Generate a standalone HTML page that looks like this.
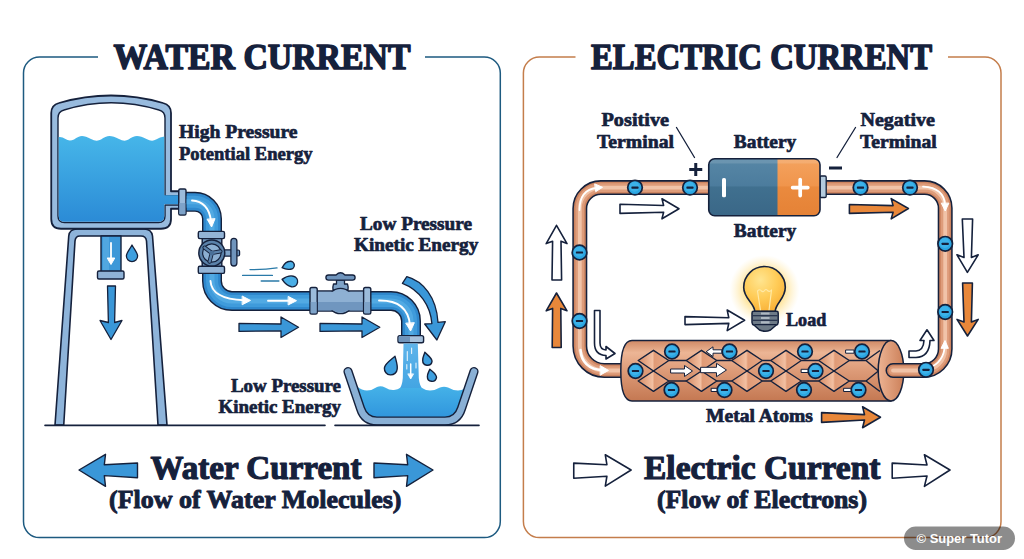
<!DOCTYPE html>
<html lang="en">
<head>
<meta charset="utf-8">
<title>Water Current vs Electric Current</title>
<style>
html,body{margin:0;padding:0;background:#fff;}
body{width:1024px;height:559px;overflow:hidden;position:relative;}
svg{display:block;position:absolute;left:0;top:0;}
.t{font-family:"Liberation Serif","DejaVu Serif",serif;font-weight:bold;fill:#15213c;stroke:#15213c;stroke-width:.7px;stroke-linejoin:round;}
.wm{font-family:"Liberation Sans","DejaVu Sans",sans-serif;font-weight:bold;fill:#fff;}
.ol{stroke:#15213c;stroke-linejoin:round;stroke-linecap:round;}
</style>
</head>
<body>
<svg width="1024" height="559" viewBox="0 0 1024 559">
<defs>
<linearGradient id="gTank" x1="0" y1="0" x2="0" y2="1"><stop offset="0" stop-color="#46b6e9"/><stop offset="1" stop-color="#2b8bd6"/></linearGradient>
<linearGradient id="gBasin" x1="0" y1="0" x2="0" y2="1"><stop offset="0" stop-color="#45b2e8"/><stop offset="1" stop-color="#2e93dc"/></linearGradient>
<linearGradient id="gStream" x1="0" y1="0" x2="0" y2="1"><stop offset="0" stop-color="#5fb4ea"/><stop offset="1" stop-color="#3fa3e2"/></linearGradient>
<linearGradient id="gCyl" x1="0" y1="0" x2="0" y2="1"><stop offset="0" stop-color="#d08a66"/><stop offset=".2" stop-color="#ecb595"/><stop offset=".5" stop-color="#dd9b78"/><stop offset="1" stop-color="#c47852"/></linearGradient>
<linearGradient id="gEnd" x1="0" y1="0" x2="1" y2="0"><stop offset="0" stop-color="#ecb393"/><stop offset="1" stop-color="#cc8059"/></linearGradient>
<linearGradient id="gDia" x1="0" y1="0" x2="1" y2="0"><stop offset="0" stop-color="#d68b65"/><stop offset=".47" stop-color="#f3c0a2"/><stop offset=".53" stop-color="#e09b77"/><stop offset="1" stop-color="#e6a683"/></linearGradient>
<linearGradient id="gBatL" x1="0" y1="0" x2="0" y2="1"><stop offset="0" stop-color="#5787a6"/><stop offset=".48" stop-color="#4c7c9d"/><stop offset=".5" stop-color="#40708f"/><stop offset="1" stop-color="#3a6787"/></linearGradient>
<linearGradient id="gBatR" x1="0" y1="0" x2="0" y2="1"><stop offset="0" stop-color="#f4a35f"/><stop offset=".48" stop-color="#f0954c"/><stop offset=".5" stop-color="#ea8a3e"/><stop offset="1" stop-color="#e58236"/></linearGradient>
<radialGradient id="gGlow" cx=".5" cy=".5" r=".5"><stop offset="0" stop-color="#ffd564" stop-opacity=".9"/><stop offset=".6" stop-color="#ffdb78" stop-opacity=".65"/><stop offset="1" stop-color="#ffe8a8" stop-opacity="0"/></radialGradient>
<radialGradient id="gBulb" cx=".4" cy=".3" r=".8"><stop offset="0" stop-color="#ffe590"/><stop offset=".5" stop-color="#ffcc58"/><stop offset="1" stop-color="#f8ab30"/></radialGradient>
<g id="el"><circle r="7.3" fill="#2ba6e2" stroke="#15213c" stroke-width="1.7"/><circle r="5" cx="-.6" cy="-.8" fill="#45b8ec" opacity=".7"/><rect x="-3.6" y="-1.1" width="7.2" height="2.2" rx=".6" fill="#15213c"/></g>

</defs>
<rect width="1024" height="559" fill="#fff"/>

<!-- ===== frames ===== -->
<path d="M98,57 H39.5 A16,16 0 0 0 23.5,73 V521.6 A16,16 0 0 0 39.5,537.6 H484.3 A16,16 0 0 0 500.3,521.6 V73 A16,16 0 0 0 484.3,57 H425" fill="none" stroke="#1d5a80" stroke-width="1.5"/>
<path d="M575.5,57 H539.4 A16,16 0 0 0 523.4,73 V521.6 A16,16 0 0 0 539.4,537.6 H985 A16,16 0 0 0 1001,521.6 V73 A16,16 0 0 0 985,57 H948" fill="none" stroke="#c47d4b" stroke-width="1.5"/>

<!-- ===== LEFT ART ===== -->
<g id="leftart">
<!-- tower legs -->
<path class="ol" d="M55,425 L68.75,236 Q69.5,229 77,229 H144 Q151.5,229 152.5,236 L167,425 H158 L146.5,241 Q146,236 141,236 H80 Q75.5,236 75,241 L63.75,425 Z" fill="#8eb4da" stroke-width="1.6"/>
<!-- center drain pipe -->
<rect class="ol" x="101" y="236" width="20" height="36" fill="#3d98d8" stroke-width="1.4"/>
<rect x="103" y="237" width="6" height="34" fill="#5fb0e6" opacity=".6"/>
<rect class="ol" x="97.5" y="271" width="26.5" height="8" rx="1.5" fill="#8fb2d6" stroke-width="1.4"/>
<path d="M111,243 V260" fill="none" stroke="#fff" stroke-width="1.8" stroke-linecap="round"/><path d="M107.2,258 L111,264.5 L114.8,258 Z" fill="#fff" stroke="#fff" stroke-width="1" stroke-linejoin="round"/>
<path class="ol" d="M132,245 C134.6,250 137.6,253 137.6,256 A5.6,5.6 0 0 1 126.4,256 C126.4,253 129.4,250 132,245 Z" fill="#3d9fdf" stroke-width="1.3"/>
<path class="ol" d="M107.5,286 H115.5 L114.6,322.5 L122,320.5 L111,339.5 L100,320.5 L108.4,322.5 Z" fill="#3a97d8" stroke-width="1.3"/>
<!-- tank -->
<path class="ol" d="M51.25,113 Q51.25,105 59,103 Q111,88 163,103 Q171,105 171,113 V191.25 H179 V208.75 H171 V219 Q171,228.75 161,228.75 H61 Q51.25,228.75 51.25,219 Z" fill="#98bbde" stroke-width="1.8"/>
<path class="ol" d="M58,118 Q58,111.5 64,110 Q111,95.5 159,110 Q165,111.5 165,118 V196 H179 V205 H165 V216 Q165,222.5 158.5,222.5 H64.5 Q58,222.5 58,216 Z" fill="#fff" stroke-width="1.4"/>
<path d="M58.7,137 Q62,136.5 65.5,139 T74,139.5 Q78.5,136 82,136 T91,139 T101,139.5 Q105.5,136 109.5,136 T119,139 T128.5,139.5 Q133,136 137,136 T146.5,139 T156,139.5 Q160,137 164.3,136.5 V195.3 H178.5 V204.3 H164.3 V216 Q164.3,221.8 158.5,221.8 H64.5 Q58.7,221.8 58.7,216 Z" fill="url(#gTank)"/>
<!-- tank outlet flange -->
<rect class="ol" x="178.75" y="189" width="7.25" height="26" rx="1.5" fill="#9bbbdb" stroke-width="1.4"/>
<rect x="179.5" y="203" width="5.8" height="11.2" fill="#7ea3c9"/>
<!-- main pipe -->
<path id="pipe1" d="M186,201.8 H195 A17,17 0 0 1 212,218.8 V281 A20,20 0 0 0 232,301 H391 A20,20 0 0 1 411,321 V337" fill="none" stroke="#15213c" stroke-width="20"/>
<path d="M186.7,201.8 H195 A17,17 0 0 1 212,218.8 V281 A20,20 0 0 0 232,301 H391 A20,20 0 0 1 411,321 V337" fill="none" stroke="#2f88cd" stroke-width="17.2"/>
<path d="M186.7,201.8 H195 A17,17 0 0 1 212,218.8 V281 A20,20 0 0 0 232,301 H391 A20,20 0 0 1 411,321 V337" fill="none" stroke="#3f9bdb" stroke-width="12"/>
<path d="M186.7,201.8 H195 A17,17 0 0 1 212,218.8 V281 A20,20 0 0 0 232,301 H391 A20,20 0 0 1 411,321 V337" fill="none" stroke="#52aae3" stroke-width="5"/>
<!-- white arrows in pipe -->
<g fill="none" stroke="#fff" stroke-width="1.9" stroke-linecap="round" stroke-linejoin="round">
<path d="M192,200.5 Q208.5,201.5 211,221"/><path d="M207.3,219.5 L211.6,227 L214.9,219 Z" fill="#fff" stroke-width="1"/>
<path d="M210.5,281 Q211.5,299 244,300.3"/><path d="M242.5,296.2 L250.5,300.4 L242.5,304.6 Z" fill="#fff" stroke-width="1"/>
<path d="M268,300.7 H290"/><path d="M288.5,296.6 L296.5,300.7 L288.5,304.8 Z" fill="#fff" stroke-width="1"/>
<path d="M379,300.5 Q407.5,300 410,325"/><path d="M406,323.5 L410.6,331 L414.2,323 Z" fill="#fff" stroke-width="1"/>
</g>
<!-- gate valve on vertical pipe -->
<rect class="ol" x="202.2" y="238" width="19.6" height="29" fill="#7397bd" stroke-width="1.4"/>
<rect class="ol" x="198.3" y="231.4" width="26.2" height="7.2" rx="1.5" fill="#93b4d6" stroke-width="1.4"/>
<rect class="ol" x="198.3" y="266.2" width="26.2" height="7.2" rx="1.5" fill="#93b4d6" stroke-width="1.4"/>
<rect class="ol" x="222" y="249.8" width="10" height="6.4" fill="#7fa3c8" stroke-width="1.3"/>
<rect class="ol" x="236" y="250" width="3.6" height="6" rx="1.5" fill="#6f94bc" stroke-width="1.2"/>
<rect class="ol" x="230.9" y="238.4" width="6" height="27.6" rx="3" fill="#6f94bc" stroke-width="1.3"/>
<circle class="ol" cx="211.8" cy="253" r="13" fill="#5b82aa" stroke-width="1.4"/>
<circle class="ol" cx="211.8" cy="253" r="9.2" fill="#8cafd2" stroke-width="1.2"/>
<path d="M211.8,253 L204.6,247.6 M211.8,253 L220.4,251.4 M211.8,253 L209.6,261.6" stroke="#15213c" stroke-width="4.2" stroke-linecap="round"/>
<path d="M211.8,253 L204.6,247.6 M211.8,253 L220.4,251.4 M211.8,253 L209.6,261.6" stroke="#5b82aa" stroke-width="2.4" stroke-linecap="round"/>
<circle cx="211.8" cy="253" r="2.3" fill="#4a7099"/>
<!-- faucet valve on horizontal pipe -->
<rect class="ol" x="316" y="291" width="48" height="20" fill="#8eb0d3" stroke-width="1.4"/>
<rect x="316.7" y="302" width="46.6" height="8.3" fill="#7096bf"/>
<path class="ol" d="M336.5,280 H344.5 V284 H347.5 Q348.5,287 348,290 H333 Q332.5,287 333.5,284 H336.5 Z" fill="#7fa3c8" stroke-width="1.3"/>
<circle class="ol" cx="340.5" cy="301" r="12.6" fill="#8eb0d3" stroke-width="1.4"/>
<path d="M328.6,302 A12,12 0 0 0 352.4,302 Z" fill="#7096bf"/>
<rect x="318" y="291.8" width="45" height="10.2" fill="#8eb0d3"/><rect x="318" y="302" width="45" height="8.3" fill="#7096bf"/>
<path class="ol" d="M328.5,275 H336 Q340.5,270.5 345,275 H352.5 A2.6,2.6 0 0 1 352.5,280.2 H328.5 A2.6,2.6 0 0 1 328.5,275 Z" fill="#6f94bc" stroke-width="1.3"/>
<rect class="ol" x="310" y="287.5" width="7.2" height="26.5" rx="1.8" fill="#9bbbdb" stroke-width="1.4"/>
<rect x="310.7" y="302" width="5.8" height="11.3" fill="#7ea3c9"/>
<rect class="ol" x="363.6" y="287.5" width="7.2" height="26.5" rx="1.8" fill="#9bbbdb" stroke-width="1.4"/>
<rect x="364.3" y="302" width="5.8" height="11.3" fill="#7ea3c9"/>
<!-- spout flange -->
<rect class="ol" x="398" y="335.6" width="25.6" height="7.2" rx="1.8" fill="#a6c1dc" stroke-width="1.4"/>
<path d="M399.5,336.3 H410 V342.1 H399.5 Q398.7,342.1 398.7,341.3 V337.1 Q398.7,336.3 399.5,336.3 Z" fill="#6f94bb"/>
<!-- stream + basin -->
<path d="M403.5,343.5 H417.8 L418.8,378 Q419.5,386 423,389.5 V395 H399 V389.5 Q402.2,386 402.8,378 Z" fill="url(#gStream)"/>
<path d="M350,388 Q353,385.5 357,386.5 Q362,390.5 367,390.5 Q372,390.5 377,387 Q381,385.5 385,387.5 Q390,390.5 394,390 Q398,389.5 400,388 L422,388 Q426,390.5 430,390.5 Q435,390.5 440,387.5 Q444,386 448,387.5 Q453,390.5 458,390.5 Q463,390 466,387.5 Q468,386.5 471,387 L461.5,412 Q458.5,420.5 449,420.5 H373 Q363.5,420.5 360.5,412 Z" fill="url(#gBasin)"/>
<g fill="none" stroke="#fff" stroke-linecap="round" stroke-linejoin="round">
<path d="M410.7,364 V375" stroke-width="1.5"/><path d="M408,374.2 L410.7,379 L413.4,374.2 Z" fill="#fff" stroke-width=".8"/>
<path d="M407.3,351.6 V360.5 M411.6,348 V353.5 M416,363 V368 M406.8,364.5 V369" stroke-width="1.1" opacity=".85"/>
</g>
<path d="M348,371.5 L360.5,408.5 Q364.5,421 377,421 H445 Q457.5,421 461.5,408.5 L474,371.5" fill="none" stroke="#15213c" stroke-width="9.2" stroke-linecap="round" stroke-linejoin="round"/>
<path d="M348,371.5 L360.5,408.5 Q364.5,421 377,421 H445 Q457.5,421 461.5,408.5 L474,371.5" fill="none" stroke="#8ab0d5" stroke-width="6.4" stroke-linecap="round" stroke-linejoin="round"/>
<!-- drops by stream -->
<path class="ol" d="M395,356.3 C396.3,361.5 397.8,365.5 397.2,369 A6.4,6.4 0 0 1 384.4,368 C384.6,364 390,360.5 395,356.3 Z" fill="#3d9fdf" stroke-width="1.4"/>
<path class="ol" d="M424.8,352.3 C427.8,355.5 432.3,358 432,361.5 A4.7,4.7 0 0 1 422.7,360.5 C422.5,357.5 424,355.5 424.8,352.3 Z" fill="#3d9fdf" stroke-width="1.4"/>
<path class="ol" d="M429.8,369.2 C432.8,372 436.8,374.2 436.5,377.7 A4.6,4.6 0 0 1 427.4,376.7 C427.2,373.7 428.8,372 429.8,369.2 Z" fill="#3d9fdf" stroke-width="1.4"/>
<!-- spray lines + drops -->
<path d="M250,269.6 Q265,269.6 277,267.9 M242.6,275.4 H272.4 M261.2,281 H278.9" fill="none" stroke="#2a7aa8" stroke-width="1.35" stroke-linecap="round"/>
<path class="ol" d="M282.1,267.7 C284,264 287,261.3 290,261.2 A4,4 0 0 1 290.6,269.2 C287.5,269.8 284.5,269 282.1,267.7 Z" fill="#4aaee6" stroke-width="1.4"/>
<path class="ol" d="M282.1,279.4 C286,276.5 290.5,275.4 293.5,276.2 A5.4,5.4 0 0 1 291.5,286.8 C287.5,286 284.5,283 282.1,279.4 Z" fill="#4aaee6" stroke-width="1.4"/>
<!-- flow arrows under pipe -->
<path class="ol" d="M239,323.3 L281,324 V317 L298.5,327.3 L281,337.5 V330.8 L239,331.4 Z" fill="#3a97d8" stroke-width="1.3"/>
<path class="ol" d="M320,323.3 L362,324 V317 L379.8,327.3 L362,337.5 V330.8 L320,331.4 Z" fill="#3a97d8" stroke-width="1.3"/>
<!-- curved arrow -->
<path class="ol" d="M406.8,276.6 C423,281 436.5,297 438,322.4 L445.3,321.7 L436.9,340 L424.7,324 L431.9,323.6 C430.5,306 420,290 402.4,283.3 Z" fill="#3a97d8" stroke-width="1.3"/>
<!-- ground -->
<path d="M45,425.4 H325 M335,425.4 H479" stroke="#15213c" stroke-width="1.6" stroke-linecap="round"/>
<!-- big arrows -->
<path class="ol" d="M79,470 L105.5,454.3 L104.3,464.8 L137.5,463 V477.8 L104.3,475.6 L105.5,486.4 Z" fill="#3a97d8" stroke-width="1.4"/>
<path class="ol" d="M433,470 L406.5,454.3 L407.7,464.8 L374,463 V477.8 L407.7,475.6 L406.5,486.4 Z" fill="#3a97d8" stroke-width="1.4"/>

</g>

<!-- ===== RIGHT ART ===== -->
<g id="rightart">
<!-- wire -->
<g fill="none" stroke-linecap="butt">
<path d="M712,187.6 H600.8 A21,21 0 0 0 579.8,208.6 V346 A24.5,24.5 0 0 0 604.3,370.5 H626" stroke="#15213c" stroke-width="15"/>
<path d="M712,187.6 H600.8 A21,21 0 0 0 579.8,208.6 V346 A24.5,24.5 0 0 0 604.3,370.5 H626" stroke="#cd8460" stroke-width="11.9"/>
<path d="M712,187.6 H600.8 A21,21 0 0 0 579.8,208.6 V346 A24.5,24.5 0 0 0 604.3,370.5 H626" stroke="#de9c7a" stroke-width="8.6"/>
<path d="M712,187.6 H600.8 A21,21 0 0 0 579.8,208.6 V346 A24.5,24.5 0 0 0 604.3,370.5 H626" stroke="#f1c3a8" stroke-width="3.8"/>
</g>
<!-- cylinder -->
<path class="ol" d="M632,340.6 H891 V401 H632 Q620.8,401 620.8,370.8 Q620.8,340.6 632,340.6 Z" fill="url(#gCyl)" stroke-width="1.5"/>
<ellipse class="ol" cx="891" cy="370.8" rx="12.8" ry="30.2" fill="url(#gEnd)" stroke-width="1.5"/>
<!-- lattice -->
<g id="lattice" stroke="#15213c" stroke-width="1.45" stroke-linejoin="round">
<g id="dpair">
<path d="M638.2,360.5 L653.5,350.3 L668.8,360.5 L653.5,371 Z" fill="url(#gDia)"/>
<path d="M638.2,381 L653.5,371 L668.8,381 L653.5,391.3 Z" fill="url(#gDia)"/>
</g>
<use href="#dpair" x="48"/><use href="#dpair" x="93.5"/><use href="#dpair" x="132.5"/><use href="#dpair" x="180.5"/>
<path d="M668.8,360.5 H686.2 M668.8,381 H686.2 M716.8,360.5 H731.7 M716.8,381 H731.7 M762.3,360.5 H770.7 M762.3,381 H770.7 M801.3,360.5 H818.7 M801.3,381 H818.7 M849.3,360.5 H866 L878.4,371 L866,381 H849.3 M866,360.5 L880,350.5 M866,381 L880,391.5" fill="none"/>
</g>
<!-- right wire (over cylinder end) -->
<g fill="none" stroke-linecap="round">
<path d="M824,187.6 H924.7 A20.5,20.5 0 0 1 945.2,208.1 V349 A21.5,21.5 0 0 1 923.7,370.5 H893" stroke="#15213c" stroke-width="15"/>
<path d="M824,187.6 H924.7 A20.5,20.5 0 0 1 945.2,208.1 V349 A21.5,21.5 0 0 1 923.7,370.5 H893" stroke="#cd8460" stroke-width="11.9"/>
<path d="M824,187.6 H924.7 A20.5,20.5 0 0 1 945.2,208.1 V349 A21.5,21.5 0 0 1 923.7,370.5 H893" stroke="#de9c7a" stroke-width="8.6"/>
<path d="M824,187.6 H924.7 A20.5,20.5 0 0 1 945.2,208.1 V349 A21.5,21.5 0 0 1 923.7,370.5 H893" stroke="#f1c3a8" stroke-width="3.8"/>
</g>
<!-- white curved arrows inside wire corners -->
<g fill="none" stroke="#fff" stroke-width="1.8" stroke-linecap="round" stroke-linejoin="round">
<path d="M579.5,210 Q579.5,189.5 597,187.8"/><path d="M595,184 L602.5,187.3 L596,191.5 Z" fill="#fff" stroke-width="1"/>
<path d="M923,186.6 Q944,187.5 945,205"/><path d="M941.5,203.5 L945.2,211 L948.7,203.5 Z" fill="#fff" stroke-width="1"/>
<path d="M580.5,350 Q582,369 603,370.3" stroke-width="2.6"/><path d="M600.5,365.8 L608.5,370.4 L600.5,375 Z" fill="#fff" stroke-width="1"/>
<path d="M929,368 Q943.8,362 944.8,346"/><path d="M941.2,348 L945,340.5 L948.2,348 Z" fill="#fff" stroke-width="1"/>
</g>
<!-- battery -->
<rect class="ol" x="820" y="176" width="6.2" height="21.5" rx="1.2" fill="#b4cbde" stroke-width="1.3"/>
<clipPath id="cpBat"><rect x="708.75" y="158.75" width="111.25" height="57" rx="6"/></clipPath>
<g clip-path="url(#cpBat)">
<rect x="708" y="158" width="70" height="58" fill="url(#gBatL)"/>
<rect x="777.5" y="158" width="43" height="58" fill="url(#gBatR)"/>
<rect x="708" y="158" width="113" height="5.5" fill="#fff" opacity=".13"/>
</g>
<rect class="ol" x="708.75" y="158.75" width="111.25" height="57" rx="6" fill="none" stroke-width="1.6"/>
<rect x="722" y="178" width="4" height="19.3" rx="1.6" fill="#fff"/>
<path d="M800.2,179.6 V195.6 M792.6,187.6 H807.8" stroke="#fff" stroke-width="3.7" stroke-linecap="round"/>
<!-- terminal signs + leaders -->
<path d="M676.5,127.5 L694.5,157.5 M855.5,127.5 L837,157.5" stroke="#15213c" stroke-width="1.3" stroke-linecap="round"/>
<path d="M695.75,163 V176 M689.25,169.5 H702.25 M829,168 H842" stroke="#15213c" stroke-width="3"/>
<!-- electrons -->
<use href="#el" x="635" y="187.6"/><use href="#el" x="690" y="187.6"/><use href="#el" x="860.5" y="187.6"/><use href="#el" x="910" y="187.6"/>
<use href="#el" x="579.5" y="252.5"/><use href="#el" x="579.5" y="321"/>
<use href="#el" x="945.2" y="243.8"/><use href="#el" x="945.2" y="312"/>
<use href="#el" x="926" y="369.8"/>
<!-- small white tails / arrows in cylinder -->
<g class="ol" fill="#fff" stroke-width="1">
<rect x="711.5" y="388.3" width="8" height="3.2"/>
<rect x="801.5" y="369.3" width="8" height="3.2"/>
<rect x="846" y="350" width="8" height="3.2"/>
<rect x="844" y="388.3" width="8" height="3.2"/>
<path d="M706.5,351.5 L713,346.8 V349.8 H722 V353.2 H713 V356.2 Z"/>
<path d="M671,369 H684.5 V365.5 L692.5,371 L684.5,376.5 V373 H671 Z"/>
<path d="M701,367.3 H716.5 V363.3 L726.5,370 L716.5,376.7 V372.7 H701 Z"/>
</g>
<use href="#el" x="635.5" y="371"/><use href="#el" x="672" y="351.5"/><use href="#el" x="671.5" y="390"/>
<use href="#el" x="729.5" y="351.5"/><use href="#el" x="724.5" y="390"/><use href="#el" x="766" y="371"/>
<use href="#el" x="805" y="351.5"/><use href="#el" x="815.5" y="371"/><use href="#el" x="804" y="390"/>
<use href="#el" x="862" y="351.5"/><use href="#el" x="858.5" y="390"/>
<!-- bulb -->
<circle cx="764.5" cy="290" r="35" fill="url(#gGlow)"/>
<path class="ol" d="M754.8,311.5 C754.5,303 743.7,299 743.7,287.3 A20.8,20.8 0 0 1 785.3,287.3 C785.3,299 775.5,303 775.2,311.5 Z" fill="url(#gBulb)" stroke-width="1.6"/>
<path d="M760.5,310.5 L757.5,291 Q760,288.5 761.5,291 Q763,292.5 764.5,290.5 Q766,288.5 767.5,290.5 Q769.5,292.5 771.5,290 L769,310.5" fill="none" stroke="#ffe9a6" stroke-width="1.2" stroke-linejoin="round"/>
<path class="ol" d="M753.5,311.3 H776.7 Q778.2,311.3 778.2,313 V322.5 Q778.2,324.5 776,325.3 L770.5,330 Q765,332.5 759.5,330 L754.2,325.3 Q752,324.5 752,322.5 V313 Q752,311.3 753.5,311.3 Z" fill="#6e7b88" stroke-width="1.5"/>
<path d="M753,315.8 H777.4 M753,320.2 H777.4 M754.5,324.6 H776" stroke="#15213c" stroke-width="1.1"/>
<path d="M761,313.5 H769.5 M761,318 H769.5 M761,322.4 H769.5" stroke="#aeb8c2" stroke-width="2.2"/>
<!-- outlined / orange arrows -->
<g class="ol" stroke-width="1.6">
<path d="M685,316.6 L728.8,317.8 L727.2,310 L744.6,320.3 L727.2,330.6 L728.8,323.4 L685,324.6 Z" fill="#fff"/>
<path d="M620,204.3 L663.6,205.5 L662,198.7 L679,208.7 L662,218.8 L663.6,212.2 L620,213.4 Z" fill="#fff"/>
<path d="M849.4,204.5 L893.1,205.6 L891.2,198.6 L908.4,208.5 L891.2,218.9 L893.1,212.3 L849.4,213.4 Z" fill="#e8873a"/>
<path d="M556.5,225.3 L567,243.6 L561,241.2 L561.6,280 H552 L552.6,241.2 L546.2,243.6 Z" fill="#fff"/>
<path d="M556.5,293 L567,310.8 L560.8,308.4 L561.2,347.5 H552.2 L552.6,308.4 L546.2,310.8 Z" fill="#e8873a"/>
<path d="M962.3,219 H972.6 L971.4,257.4 L978.2,254.8 L967.4,272.4 L957,254.8 L964,257.4 Z" fill="#fff"/>
<path d="M962.6,283 H972.4 L971.4,322 L978.2,319.4 L967.5,336 L957,319.4 L964,322 Z" fill="#e8873a"/>
<path d="M821.6,412.6 L864.5,414.6 L862.6,406.8 L880.5,417.2 L862.6,427.7 L864.5,420 L821.6,422.4 Z" fill="#e8873a"/>
<path d="M573.75,463.1 L606.9,464.7 L605.3,454.8 L631.1,470 L605.3,486.1 L606.9,476.25 L573.75,478.3 Z" fill="#fff"/>
<path d="M892.2,463.1 L927,465 L924.4,454.8 L950,470 L924.4,486.4 L927,476 L892.2,478.3 Z" fill="#fff"/>
<path d="M594.5,310.5 H600 V343 Q600,349.5 606,350 V346.5 L615,353.5 L606,359 V355.5 Q594.5,355 594.5,343 Z" fill="#fff" stroke-width="1.6"/>
<path d="M909,351 H916 Q923.5,350.5 924,340.5 H920 L927,329.8 L934,340.5 H930 Q929.5,357 916,357.5 H909 Z" fill="#fff" stroke-width="1.6"/>
</g>

</g>

<!-- ===== text ===== -->
<g id="labels">
<text class="t" x="113.5" y="69.3" font-size="35.2" textLength="297" lengthAdjust="spacingAndGlyphs" style="stroke-width:1.5px">WATER CURRENT</text>
<text class="t" x="591" y="69.3" font-size="35.2" textLength="341" lengthAdjust="spacingAndGlyphs" style="stroke-width:1.5px">ELECTRIC CURRENT</text>

<text class="t" x="179" y="137.7" font-size="19.6" textLength="118.5" lengthAdjust="spacingAndGlyphs">High Pressure</text>
<text class="t" x="179" y="159.6" font-size="19.6" textLength="133.5" lengthAdjust="spacingAndGlyphs">Potential Energy</text>
<text class="t" x="360" y="229.7" font-size="19.6" textLength="112" lengthAdjust="spacingAndGlyphs">Low Pressure</text>
<text class="t" x="354" y="250.9" font-size="19.6" textLength="124.3" lengthAdjust="spacingAndGlyphs">Kinetic Energy</text>
<text class="t" x="231" y="391.6" font-size="19.6" textLength="110" lengthAdjust="spacingAndGlyphs">Low Pressure</text>
<text class="t" x="218.5" y="412.9" font-size="19.6" textLength="122.5" lengthAdjust="spacingAndGlyphs">Kinetic Energy</text>
<text class="t" x="150.5" y="479.3" font-size="33.6" textLength="211" lengthAdjust="spacingAndGlyphs" style="stroke-width:1.2px">Water Current</text>
<text class="t" x="109" y="508.4" font-size="25.4" textLength="292.5" lengthAdjust="spacingAndGlyphs" style="stroke-width:.95px">(Flow of Water Molecules)</text>

<text class="t" x="601.5" y="126.3" font-size="19.6" textLength="67.5" lengthAdjust="spacingAndGlyphs">Positive</text>
<text class="t" x="597" y="148" font-size="19.6" textLength="77" lengthAdjust="spacingAndGlyphs">Terminal</text>
<text class="t" x="733.75" y="147.9" font-size="19.6" textLength="62.5" lengthAdjust="spacingAndGlyphs">Battery</text>
<text class="t" x="733.75" y="237" font-size="19.6" textLength="62.5" lengthAdjust="spacingAndGlyphs">Battery</text>
<text class="t" x="860.5" y="126.3" font-size="19.6" textLength="74.5" lengthAdjust="spacingAndGlyphs">Negative</text>
<text class="t" x="860" y="148" font-size="19.6" textLength="76.75" lengthAdjust="spacingAndGlyphs">Terminal</text>
<text class="t" x="786" y="325.6" font-size="19.6" textLength="40.3" lengthAdjust="spacingAndGlyphs">Load</text>
<text class="t" x="706" y="422.4" font-size="18.6" textLength="107" lengthAdjust="spacingAndGlyphs">Metal Atoms</text>
<text class="t" x="644" y="479.2" font-size="33.6" textLength="236.5" lengthAdjust="spacingAndGlyphs" style="stroke-width:1.2px">Electric Current</text>
<text class="t" x="657" y="508.2" font-size="25.4" textLength="210" lengthAdjust="spacingAndGlyphs" style="stroke-width:.95px">(Flow of Electrons)</text>
</g>

<!-- watermark -->
<rect x="904" y="526.6" width="111" height="23.4" rx="11.7" fill="#000" fill-opacity=".45"/>
<text class="wm" x="916.6" y="543.2" font-size="13.2" textLength="85.4" lengthAdjust="spacingAndGlyphs">© Super Tutor</text>
</svg>
</body>
</html>
